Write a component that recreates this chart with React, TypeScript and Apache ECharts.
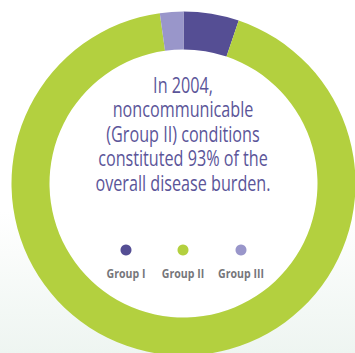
import React, { useEffect, useRef } from "react";
import * as echarts from "echarts";

const categories = ["Group I", "Group II", "Group III"];
const values = [5.2, 92.6, 2.2];
const colors = ["#554E94", "#B3D03F", "#9996CA"];
const headline = [
  "In 2004,",
  "noncommunicable",
  "(Group II) conditions",
  "constituted 93% of the",
  "overall disease burden.",
];

export default function App() {
  const ref = useRef<HTMLDivElement>(null);
  useEffect(() => {
    if (!ref.current) return;
    const chart = echarts.init(ref.current, undefined, { renderer: "svg" });
    const cx = 183.5;
    const cy = 183.5;
    const legendXs = [126, 183, 241];
    const legendGraphics: any[] = [];
    categories.forEach((c, i) => {
      legendGraphics.push({
        type: "circle",
        z: 100,
        shape: { cx: legendXs[i], cy: 250, r: 5.5 },
        style: { fill: colors[i] },
        silent: true,
      });
      legendGraphics.push({
        type: "text",
        z: 100,
        x: legendXs[i],
        y: 273,
        scaleX: 0.88,
        style: {
          text: c,
          fill: "#76767A",
          font: "bold 12px 'Open Sans', sans-serif",
          align: "center",
          verticalAlign: "middle",
        },
        silent: true,
      });
    });
    chart.setOption({
      animation: false,
      backgroundColor: {
        type: "linear",
        x: 0,
        y: 0,
        x2: 0,
        y2: 1,
        colorStops: [
          { offset: 0, color: "#FFFFFF" },
          { offset: 0.6, color: "#FFFFFF" },
          { offset: 1, color: "#EEF5F1" },
        ],
      },
      series: [
        {
          type: "pie",
          z: 1,
          center: [cx, cy],
          radius: [0, 134],
          silent: true,
          label: { show: false },
          data: [{ value: 1, name: "", itemStyle: { color: "#FFFFFF" } }],
        },
        {
          type: "pie",
          center: [cx, cy],
          radius: [134, 172],
          startAngle: 90,
          clockwise: true,
          label: { show: false },
          labelLine: { show: false },
          itemStyle: { borderWidth: 0 },
          data: categories.map((c, i) => ({
            name: c,
            value: values[i],
            itemStyle: { color: colors[i] },
          })),
        },
      ],
      graphic: [
        {
          type: "text",
          z: 100,
          x: 183,
          y: 72,
          scaleX: 0.77,
          style: {
            text: headline.join("\n"),
            fill: "#5B5599",
            font: "21px 'Open Sans', sans-serif",
            lineHeight: 24.5,
            align: "center",
            verticalAlign: "top",
          },
          silent: true,
        },
        ...legendGraphics,
      ],
    });
    return () => chart.dispose();
  }, []);
  return (
    <div
      ref={ref}
      style={{ position: "fixed", left: 0, top: 0, width: 355, height: 353 }}
    />
  );
}
